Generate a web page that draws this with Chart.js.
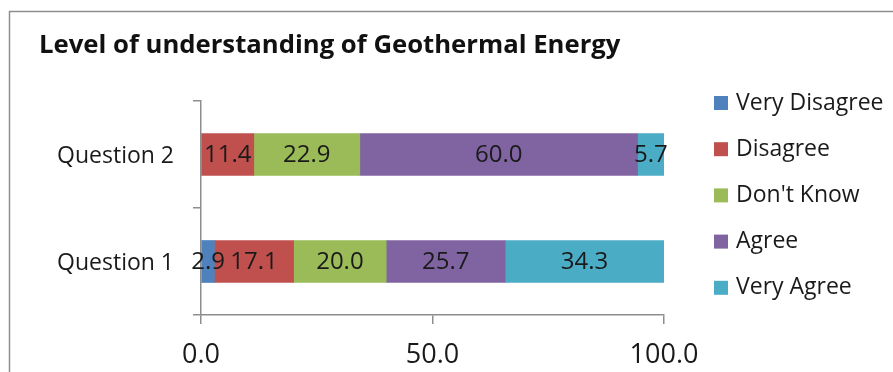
<!DOCTYPE html>
<html>
<head>
<meta charset="utf-8">
<script src="https://cdn.jsdelivr.net/npm/chart.js@4.4.1/dist/chart.umd.min.js"></script>
<style>
  html, body { margin: 0; padding: 0; background: #fff; }
  #wrap { width: 893px; height: 372px; position: relative; }
</style>
</head>
<body>
<div id="wrap"><canvas id="c" width="893" height="372"></canvas></div>
<script>
const categories = ['Question 2', 'Question 1'];
const seriesNames = ['Very Disagree', 'Disagree', "Don't Know", 'Agree', 'Very Agree'];
const veryDisagree = [0, 2.9];
const disagree = [11.4, 17.1];
const dontKnow = [22.9, 20.0];
const agree = [60.0, 25.7];
const veryAgree = [5.7, 34.3];
const xTicks = [0, 50, 100];
const colors = ['#4F81BD', '#C0504D', '#9BBB59', '#8064A2', '#4BACC6'];
const chartTitle = 'Level of understanding of Geothermal Energy';

const FONT = '"Open Sans", sans-serif';
const seriesValues = [veryDisagree, disagree, dontKnow, agree, veryAgree];

const datasets = seriesNames.map((name, i) => ({
  label: name,
  data: seriesValues[i],
  backgroundColor: colors[i],
  borderWidth: 0,
  barThickness: 42
}));

// frame, title, legend and the value labels inside each segment
const decorations = {
  id: 'decorations',
  beforeDraw(chart) {
    const ctx = chart.ctx;
    ctx.save();
    ctx.fillStyle = '#fff';
    ctx.fillRect(0, 0, chart.width, chart.height);
    ctx.strokeStyle = '#8e8e8e';
    ctx.lineWidth = 1.5;
    ctx.beginPath();
    ctx.moveTo(9.5, chart.height + 2);
    ctx.lineTo(9.5, 11.5);
    ctx.lineTo(chart.width + 2, 11.5);
    ctx.stroke();
    ctx.restore();
  },
  afterDatasetsDraw(chart) {
    const ctx = chart.ctx;
    ctx.save();
    ctx.font = '24px ' + FONT;
    ctx.fillStyle = '#1a1a1a';
    ctx.textAlign = 'center';
    ctx.textBaseline = 'middle';
    chart.data.datasets.forEach((ds, di) => {
      const meta = chart.getDatasetMeta(di);
      meta.data.forEach((bar, i) => {
        const v = ds.data[i];
        if (!v) return;
        ctx.fillText(v.toFixed(1), (bar.x + bar.base) / 2, bar.y + 1);
      });
    });
    ctx.restore();
  },
  afterDraw(chart) {
    const ctx = chart.ctx;
    ctx.save();
    ctx.fillStyle = '#111';
    ctx.font = 'bold 25.7px ' + FONT;
    ctx.textAlign = 'left';
    ctx.textBaseline = 'middle';
    ctx.fillText(chartTitle, 39, 46);

    ctx.font = '23px ' + FONT;
    seriesNames.forEach((name, i) => {
      const y = 103 + i * 46.2;
      ctx.fillStyle = colors[i];
      ctx.fillRect(714, y - 7, 14, 14);
      ctx.fillStyle = '#1a1a1a';
      ctx.fillText(name, 736, y);
    });
    ctx.restore();
  }
};

new Chart(document.getElementById('c'), {
  type: 'bar',
  data: { labels: categories, datasets },
  options: {
    indexAxis: 'y',
    responsive: false,
    animation: false,
    events: [],
    layout: { padding: { top: 101, right: 229, left: 0, bottom: 0 } },
    plugins: { legend: { display: false }, title: { display: false }, tooltip: { enabled: false } },
    scales: {
      x: {
        stacked: true,
        min: 0,
        max: 100,
        afterFit(scale) { scale.height = 57; },
        afterBuildTicks(scale) { scale.ticks = xTicks.map(v => ({ value: v })); },
        ticks: {
          font: { family: FONT, size: 27 },
          color: '#1a1a1a',
          padding: 15,
          maxRotation: 0,
          autoSkip: false,
          callback: v => Number(v).toFixed(1)
        },
        grid: { drawOnChartArea: false, color: '#8e8e8e', tickLength: 9, lineWidth: 1.5 },
        border: { color: '#8e8e8e', width: 1.5 }
      },
      y: {
        stacked: true,
        afterFit(scale) { scale.width = 201; },
        ticks: { font: { family: FONT, size: 23 }, color: '#1a1a1a', padding: 19, labelOffset: 2 },
        grid: { drawOnChartArea: false, color: '#8e8e8e', tickLength: 8, lineWidth: 1.5, offset: true },
        border: { color: '#8e8e8e', width: 1.5 }
      }
    }
  },
  plugins: [decorations]
});
</script>
</body>
</html>
